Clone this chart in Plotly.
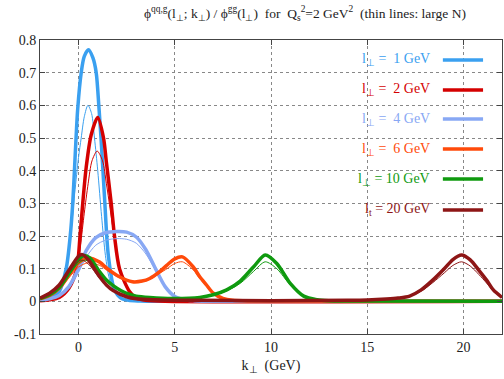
import plotly.graph_objects as go

# ---------------- data ----------------
labels = ["l<sub>⊥</sub> =  1 GeV", "l<sub>⊥</sub> =  2 GeV", "l<sub>⊥</sub> =  4 GeV",
          "l<sub>⊥</sub> =  6 GeV", "l<sub>⊥</sub> = 10 GeV", "l<sub>t</sub> = 20 GeV"]
colors = ["#3aa0f0", "#d40000", "#88a8f4", "#ff4a0a", "#0f9a0f", "#8e1616"]

k_l1 = [-2, -1.5, -1, -0.64, -0.43, -0.3, -0.17, -0.04, 0.14, 0.3, 0.52, 0.75, 0.92, 1.06, 1.18, 1.35, 1.55, 1.87, 2.2, 2.6, 3.2, 4, 22]
v_l1 = [0.004, 0.01, 0.03, 0.1, 0.2, 0.3, 0.45, 0.59, 0.70, 0.75, 0.77, 0.745, 0.70, 0.595, 0.49, 0.32, 0.14, 0.035, 0.01, 0.003, 0.001, 0, 0]
k_l1n = [-2, -1.5, -1, -0.64, -0.43, -0.2, 0, 0.14, 0.3, 0.49, 0.68, 0.83, 1.0, 1.2, 1.4, 1.6, 1.87, 2.2, 2.6, 3.2, 4, 22]
v_l1n = [0.004, 0.01, 0.03, 0.1, 0.19, 0.33, 0.44, 0.50, 0.565, 0.60, 0.575, 0.50, 0.40, 0.26, 0.14, 0.07, 0.03, 0.01, 0.003, 0.001, 0, 0]

k_l2 = [-2, -1.5, -1, -0.5, -0.09, 0.08, 0.22, 0.4, 0.66, 1.0, 1.3, 1.44, 1.7, 1.87, 2.13, 2.65, 3.0, 3.5, 4.5, 22]
v_l2 = [0.002, 0.005, 0.012, 0.04, 0.1, 0.2, 0.3, 0.41, 0.51, 0.563, 0.50, 0.43, 0.3, 0.2, 0.1, 0.03, 0.01, 0.003, 0, 0]
k_l2n = [-2, -1.5, -1, -0.5, -0.09, 0.1, 0.3, 0.5, 0.7, 0.97, 1.25, 1.45, 1.7, 1.9, 2.2, 2.65, 3.0, 3.5, 4.5, 22]
v_l2n = [0.002, 0.005, 0.012, 0.04, 0.09, 0.17, 0.27, 0.36, 0.43, 0.46, 0.43, 0.36, 0.26, 0.18, 0.09, 0.03, 0.01, 0.003, 0, 0]

k_l4 = [-2, -1.5, -1, -0.5, 0, 0.4, 0.9, 1.4, 2.0, 2.5, 3.0, 3.5, 4.0, 4.5, 5.0, 5.5, 6.0, 7, 22]
v_l4 = [0.003, 0.008, 0.018, 0.045, 0.1, 0.155, 0.195, 0.21, 0.214, 0.212, 0.197, 0.158, 0.1, 0.045, 0.015, 0.005, 0.002, 0, 0]
v_l4n = [0.003, 0.008, 0.016, 0.04, 0.088, 0.135, 0.172, 0.187, 0.192, 0.19, 0.178, 0.145, 0.095, 0.044, 0.015, 0.005, 0.002, 0, 0]

k_l6 = [-2, -1.5, -1, -0.5, 0, 0.5, 1.1, 1.5, 2.1, 2.8, 3.3, 3.7, 4.2, 4.6, 5.0, 5.4, 5.95, 6.3, 6.65, 7.0, 7.5, 8.0, 9.0, 22]
v_l6 = [0.008, 0.018, 0.04, 0.08, 0.118, 0.133, 0.12, 0.1, 0.076, 0.06, 0.062, 0.07, 0.09, 0.111, 0.13, 0.136, 0.106, 0.075, 0.05, 0.025, 0.009, 0.003, 0.001, 0]
v_l6n = [0.008, 0.017, 0.036, 0.072, 0.105, 0.118, 0.11, 0.094, 0.073, 0.059, 0.06, 0.067, 0.085, 0.1, 0.116, 0.121, 0.097, 0.07, 0.046, 0.023, 0.008, 0.003, 0.001, 0]

k_l10 = [-2, -1.5, -1, -0.5, 0, 0.3, 0.6, 1.1, 1.45, 1.8, 2.5, 3.0, 3.7, 4.9, 6.3, 7.0, 7.7, 8.4, 9.1, 9.7, 10.3, 11.0, 11.7, 12.4, 13, 14, 22]
v_l10 = [0.008, 0.02, 0.042, 0.085, 0.128, 0.14, 0.132, 0.09, 0.065, 0.048, 0.024, 0.016, 0.012, 0.009, 0.012, 0.02, 0.035, 0.062, 0.106, 0.142, 0.116, 0.055, 0.016, 0.005, 0.002, 0.001, 0]
v_l10n = [0.008, 0.019, 0.04, 0.08, 0.117, 0.126, 0.12, 0.085, 0.063, 0.047, 0.024, 0.016, 0.012, 0.009, 0.012, 0.019, 0.032, 0.055, 0.092, 0.121, 0.1, 0.05, 0.015, 0.005, 0.002, 0.001, 0]

k_l20 = [-2, -1.5, -1, -0.5, 0, 0.2, 0.5, 1.1, 1.45, 1.8, 2.5, 3.0, 4.0, 6.0, 10, 14, 15, 16, 16.6, 17.2, 17.8, 18.4, 19.0, 19.45, 19.9, 20.35, 20.8, 21.2, 21.55, 22]
v_l20 = [0.01, 0.025, 0.05, 0.095, 0.138, 0.143, 0.128, 0.075, 0.05, 0.033, 0.014, 0.008, 0.005, 0.003, 0.002, 0.003, 0.004, 0.007, 0.01, 0.016, 0.035, 0.065, 0.1, 0.128, 0.142, 0.127, 0.095, 0.065, 0.035, 0.012]
v_l20n = [0.01, 0.024, 0.047, 0.088, 0.123, 0.126, 0.115, 0.07, 0.048, 0.032, 0.014, 0.008, 0.005, 0.003, 0.002, 0.003, 0.004, 0.007, 0.01, 0.015, 0.031, 0.057, 0.087, 0.11, 0.121, 0.108, 0.082, 0.056, 0.031, 0.011]

x_ticks = [0, 5, 10, 15, 20]
y_ticks = [-0.1, 0, 0.1, 0.2, 0.3, 0.4, 0.5, 0.6, 0.7, 0.8]

series = [
    (k_l1, v_l1, k_l1n, v_l1n),
    (k_l2, v_l2, k_l2n, v_l2n),
    (k_l4, v_l4, k_l4, v_l4n),
    (k_l6, v_l6, k_l6, v_l6n),
    (k_l10, v_l10, k_l10, v_l10n),
    (k_l20, v_l20, k_l20, v_l20n),
]

SERIF = "Liberation Serif, Times New Roman, serif"

fig = go.Figure()
for (kt, vt, kn, vn), col, lab in zip(series, colors, labels):
    fig.add_trace(go.Scatter(x=kt, y=vt, mode="lines", name=lab,
                             line=dict(color=col, width=3.5, shape="spline", smoothing=0.8),
                             showlegend=False))
    fig.add_trace(go.Scatter(x=kn, y=vn, mode="lines", name=lab + " (large N)",
                             line=dict(color=col, width=1, shape="spline", smoothing=0.8),
                             showlegend=False))

# legend drawn manually (text right-aligned, sample line on the right)
leg_y = [0.932, 0.830, 0.731, 0.629, 0.527, 0.422]
for lab, col, yy in zip(labels, colors, leg_y):
    fig.add_annotation(x=0.848, y=yy, xref="paper", yref="paper", text=lab,
                       showarrow=False, xanchor="right", yanchor="middle",
                       font=dict(family=SERIF, size=14, color=col))
    fig.add_shape(type="line", xref="paper", yref="paper", x0=0.872, x1=0.959,
                  y0=yy, y1=yy, line=dict(color=col, width=3.5))

fig.update_layout(
    width=504, height=379,
    margin=dict(l=40, r=2, t=40, b=45),
    paper_bgcolor="white", plot_bgcolor="white",
    font=dict(family=SERIF, size=14, color="#222"),
    title=dict(text="ϕ<sup>qq,g</sup>(l<sub>⊥</sub>; k<sub>⊥</sub>) / ϕ<sup>gg</sup>(l<sub>⊥</sub>)  for  Q<sub>s</sub><sup>2</sup>=2 GeV<sup>2</sup>  (thin lines: large N)",
               x=0.605, xanchor="center", y=0.965, yanchor="middle",
               font=dict(family=SERIF, size=13.5, color="#222")),
    xaxis=dict(range=[-2, 22], tickvals=x_ticks, ticks="inside", ticklen=5,
               showline=True, linecolor="#444", linewidth=1, mirror="ticks",
               showgrid=True, gridcolor="#888", griddash="dot", gridwidth=1,
               zeroline=False, title=dict(text="k<sub>⊥</sub>  (GeV)", standoff=6,
                                          font=dict(family=SERIF, size=14))),
    yaxis=dict(range=[-0.1, 0.8], tickvals=y_ticks, ticktext=[f"{t:g}" for t in y_ticks],
               ticks="inside", ticklen=5,
               showline=True, linecolor="#444", linewidth=1, mirror="ticks",
               showgrid=True, gridcolor="#888", griddash="dot", gridwidth=1,
               zeroline=False),
)

fig.write_html("out.html")
